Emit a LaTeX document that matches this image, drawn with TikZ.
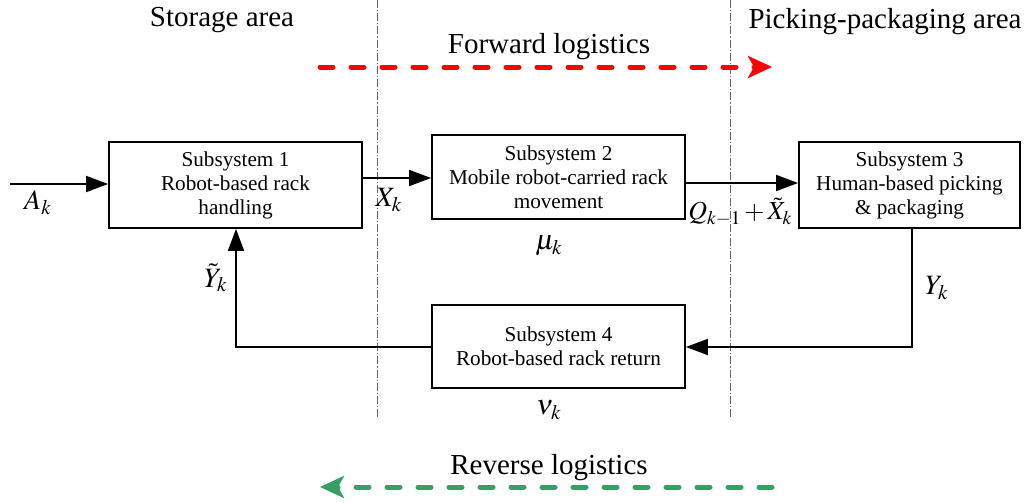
\documentclass[tikz,border=0pt]{standalone}
\usepackage{mathptmx}
\usepackage[no-math]{fontspec}
\setmainfont{Liberation Serif}
\usepackage{tikz}
\usetikzlibrary{arrows.meta,positioning}

\definecolor{revgreen}{RGB}{56,158,104}

\begin{document}
\begin{tikzpicture}[
        x=0.5pt, y=-0.5pt,
        font=\fontsize{10.6}{12}\selectfont,
        % 子系统方框
        subsys/.style={draw, line width=0.9pt, align=center, inner sep=1pt},
        % 连线
        flow/.style={line width=0.9pt, -{Triangle[length=11pt,width=8pt]}},
        % 区域分界线
        divider/.style={draw=black!60, line width=0.5pt, dash pattern=on 4pt off 1pt on 0.6pt off 1pt},
        % 物流方向
        logistic/.style={line width=2.5pt, line cap=round, dash pattern=on 6.5pt off 9pt, -{Stealth[length=12pt,width=11pt,inset=3pt]}},
        arealabel/.style={font=\fontsize{14.5}{16}\selectfont},
        varlabel/.style={font=\fontsize{14}{16}\selectfont, inner sep=1pt}
    ]

    \useasboundingbox (0,0) rectangle (1029,503);

    % 四个子系统
    \node[subsys, minimum width=126.5pt, minimum height=43pt] (sub1) at (235.5,185)
        {Subsystem 1\\Robot-based rack\\handling};
    \node[subsys, minimum width=126.5pt, minimum height=42pt] (sub2) at (558.5,177)
        {Subsystem 2\\Mobile robot-carried rack\\movement};
    \node[subsys, minimum width=110.5pt, minimum height=43pt] (sub3) at (909.5,185)
        {Subsystem 3\\Human-based picking\\\& packaging};
    \node[subsys, minimum width=126.5pt, minimum height=41.5pt] (sub4) at (558.5,346.5)
        {Subsystem 4\\Robot-based rack return};

    % 分界线
    \draw[divider] (377,0) -- (377,418);
    \draw[divider] (730,0) -- (730,418);

    % 区域与物流标签
    \node[arealabel] (storage) at (222,20) {Storage area};
    \node[arealabel] (picking) at (885,22) {Picking-packaging area};
    \node[arealabel] (fwdtext) at (549,47) {Forward logistics};
    \node[arealabel] (revtext) at (549,468) {Reverse logistics};

    \coordinate (fwdstart) at (320,67);
    \coordinate (fwdend) at (772,67);
    \coordinate (revstart) at (772,487);
    \coordinate (revend) at (320,487);
    \draw[logistic, red] (fwdstart) -- (fwdend);
    \draw[logistic, revgreen] (revstart) -- (revend);

    % 主流程
    \coordinate (input) at (10,184);
    \draw[flow] (input) -- (input -| sub1.west);
    \draw[flow] (sub1.east |- 0,178) -- (sub2.west |- 0,178);
    \draw[flow] (sub2.east |- 0,183) -- (sub3.west |- 0,183);

    % 回流
    \coordinate (c3) at (912,347);
    \coordinate (c1) at (236,347);
    \draw[flow] (sub3.south -| c3) -- (c3) -- (sub4.east |- c3);
    \draw[flow] (sub4.west |- c1) -- (c1) -- (c1 |- sub1.south);

    % 变量标签
    \node[varlabel] (ak) at (38,203) {$A_k$};
    \node[varlabel] (xk) at (389,200) {$X_k$};
    \node[varlabel, anchor=east, font=\fontsize{13}{15}\selectfont] (qk) at (795,212)
        {$Q_{k\mathrm{-}1}{\,+\,}\tilde{X}_k$};
    \node[varlabel] (yk) at (937,288) {$Y_k$};
    \node[varlabel] (ytk) at (216,278) {$\tilde{Y}_k$};
    \node[varlabel] (muk) at (549,246) {$\mu_k$};
    \node[varlabel] (nuk) at (549,410) {$\nu_k$};

\end{tikzpicture}
\end{document}
